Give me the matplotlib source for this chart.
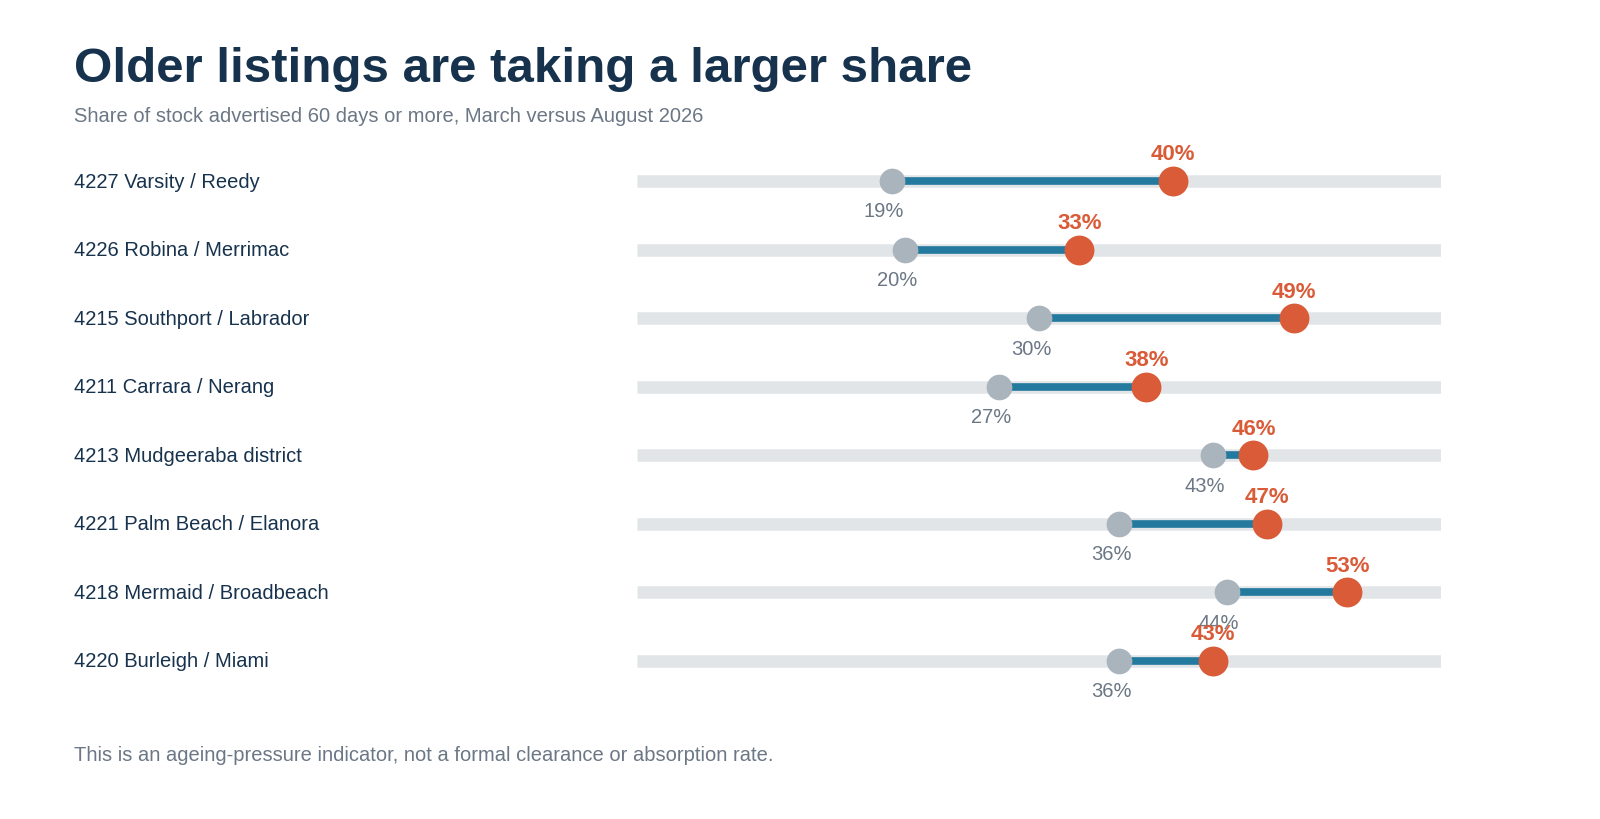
import matplotlib
matplotlib.use("Agg")
import matplotlib.pyplot as plt

regions = ["4227 Varsity / Reedy", "4226 Robina / Merrimac", "4215 Southport / Labrador",
           "4211 Carrara / Nerang", "4213 Mudgeeraba district", "4221 Palm Beach / Elanora",
           "4218 Mermaid / Broadbeach", "4220 Burleigh / Miami"]
march = [19, 20, 30, 27, 43, 36, 44, 36]
august = [40, 33, 49, 38, 46, 47, 53, 43]

plt.rcParams['font.family'] = ['Liberation Sans', 'DejaVu Sans']
fig = plt.figure(figsize=(16, 8.2), dpi=100)
W, H = 1600, 820
top_px, bot_px = 148, 700
ax = fig.add_axes([637/W, 1-bot_px/H, (1441-637)/W, (bot_px-top_px)/H])
ax.set_xlim(0, 60)
y0, dy = 182, 68.57
ax.set_ylim(bot_px, top_px)
ax.axis('off')
navy = '#17324d'; grey = '#6b7785'; orange = '#d95b37'
for i, (r, a, b) in enumerate(zip(regions, march, august)):
    y = y0 + i*dy
    ax.plot([0, 60], [y, y], color='#e1e5e8', lw=9, solid_capstyle='butt', zorder=1)
    ax.plot([a, b], [y, y], color='#23799e', lw=5.5, solid_capstyle='butt', zorder=2)
    ax.plot(a, y, 'o', ms=18.5, color='#a9b4bd', mec='none', zorder=3)
    ax.plot(b, y, 'o', ms=21.5, color=orange, mec='none', zorder=4)
    ax.text(a - 0.6, y + 30, f"{a}%", ha='center', va='center', fontsize=14.5, color=grey, zorder=5)
    ax.text(b, y - 27, f"{b}%", ha='center', va='center', fontsize=16, color=orange,
            fontweight='bold', zorder=5)
    fig.text(74/W, 1-y/H, r, ha='left', va='center', fontsize=14.5, color=navy)

fig.text(74/W, 1-70/H, "Older listings are taking a larger share", fontsize=35.5,
         fontweight='bold', color=navy, ha='left', va='center')
fig.text(74/W, 1-116/H, "Share of stock advertised 60 days or more, March versus August 2026",
         fontsize=14.5, color=grey, ha='left', va='center')
fig.text(74/W, 1-756/H, "This is an ageing-pressure indicator, not a formal clearance or absorption rate.",
         fontsize=14.5, color=grey, ha='left', va='center')
fig.savefig("out.png", dpi=100, facecolor='white')
